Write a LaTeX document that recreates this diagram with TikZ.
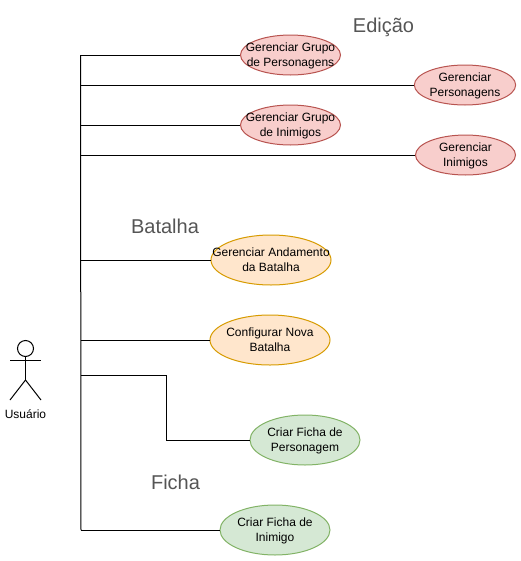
\documentclass[tikz,border=0pt]{standalone}
\usepackage{fontspec}
\setmainfont{Liberation Sans}
\usepackage{tikz}
\usetikzlibrary{shapes.geometric}
\definecolor{white}{RGB}{255,255,255}
\definecolor{black}{RGB}{0,0,0}
\definecolor{title_gray}{RGB}{85,85,85}
\definecolor{red_fill}{RGB}{248,206,204}
\definecolor{red_line}{RGB}{184,84,80}
\definecolor{orange_fill}{RGB}{255,230,204}
\definecolor{orange_line}{RGB}{215,155,0}
\definecolor{green_fill}{RGB}{213,232,212}
\definecolor{green_line}{RGB}{130,179,102}
\tikzset{
	usecase/.style={ellipse,align=center,inner xsep=-16pt,inner ysep=-6pt,text height=19.7pt,text depth=1.9pt,font=\fontsize{9}{11.25}\selectfont,line width=0.75pt},
	edicao/.style={usecase,draw=red_line,fill=red_fill,minimum height=30pt},
	batalha/.style={usecase,draw=orange_line,fill=orange_fill,minimum width=90pt,minimum height=37.5pt},
	ficha/.style={usecase,draw=green_line,fill=green_fill,minimum width=82.5pt,minimum height=37.5pt},
	grouptitle/.style={text=title_gray,font=\fontsize{15}{18}\selectfont},
	wire/.style={black,line width=0.75pt}
}

\begin{document}
\begin{tikzpicture}[x=0.75pt,y=-0.75pt]
	\useasboundingbox (0,0) rectangle (521,561);
	\node[grouptitle] (edicao) at (383.5,27.5) {Edição};
	\node[grouptitle] (batalha) at (165,226) {Batalha};
	\node[grouptitle] (ficha) at (175.5,482) {Ficha};

	\node[edicao,minimum width=75pt] (grupo_pers) at (290.5,55) {Gerenciar Grupo\\de Personagens};
	\node[edicao,minimum width=76pt] (pers) at (465,85) {Gerenciar\\Personagens};
	\node[edicao,minimum width=75pt] (grupo_inim) at (290.5,125) {Gerenciar Grupo\\de Inimigos};
	\node[edicao,minimum width=75pt] (inim) at (465.5,155) {Gerenciar\\Inimigos};
	\node[batalha] (andamento) at (271,260) {Gerenciar Andamento\\da Batalha};
	\node[batalha] (configurar) at (270,340) {Configurar Nova\\Batalha};
	\node[ficha] (ficha_pers) at (305,440) {Criar Ficha de\\Personagem};
	\node[ficha] (ficha_inim) at (275,530) {Criar Ficha de\\Inimigo};

	\node[circle,draw=black,line width=0.75pt,minimum size=12pt,inner sep=0pt] (head) at (25.5,348.5) {};
	\coordinate (hip) at (25.5,380);
	\coordinate (arm_l) at (10,360);
	\coordinate (arm_r) at (41,360);
	\coordinate (foot_l) at (10,400);
	\coordinate (foot_r) at (41,400);
	\node[font=\fontsize{9}{11.25}\selectfont] (usuario) at (25.5,414.5) {Usuário};
	\draw[wire] (head) -- (hip);
	\draw[wire] (arm_l) -- (arm_r);
	\draw[wire] (foot_l) -- (hip) -- (foot_r);

	\coordinate (top) at (80.5,55);
	\coordinate (bottom) at (81,530);
	\coordinate (fork) at (81,375.5);
	\coordinate (bend) at (166,375.5);
	\coordinate (foot) at (166,440);
	\draw[wire] (top) -- (bottom);
	\foreach \y/\n in {55/grupo_pers,85/pers,125/grupo_inim,155/inim,260/andamento,340/configurar,530/ficha_inim}
		\draw[wire] (80.5,\y) -- (\n.west);
	\draw[wire] (fork) -- (bend) -- (foot) -- (ficha_pers.west);
\end{tikzpicture}
\end{document}
